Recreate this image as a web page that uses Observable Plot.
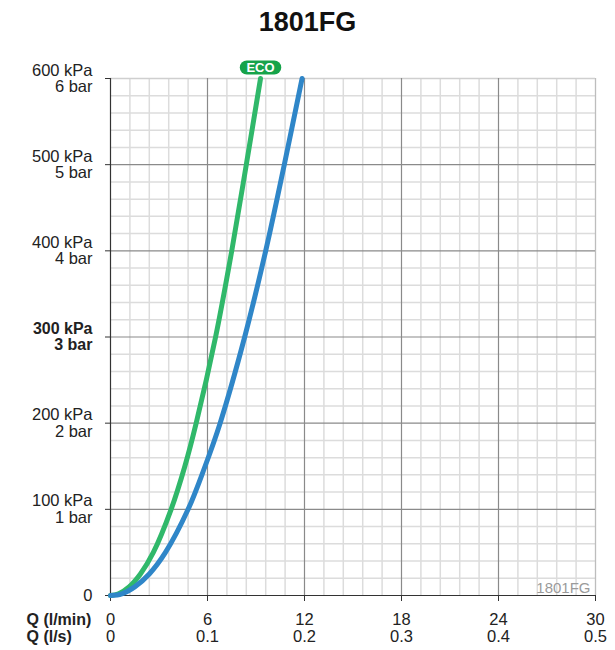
<!DOCTYPE html>
<html><head><meta charset="utf-8">
<script src="https://cdn.jsdelivr.net/npm/d3@7"></script>
<script src="https://cdn.jsdelivr.net/npm/@observablehq/plot@0.6"></script>
<style>
body{margin:0;background:#fff;font-family:"Liberation Sans",Arial,sans-serif;}
#title{height:44px;line-height:44px;text-align:center;font-weight:bold;font-size:27px;color:#111;}
</style></head><body>
<div id="title">1801FG</div>
<div id="chart"></div>
<script>
// Flow Q (l/min) vs pressure (kPa)
const ecoQ = [0, 0.5, 1.15, 1.85, 2.65, 3.75, 4.6, 5.3, 6.5, 7.5, 8.4, 9.28];
const ecoP = [0, 2, 10, 25, 50, 100, 150, 200, 300, 400, 500, 600];
const stdQ = [0, 0.7, 1.5, 2.4, 3.4, 4.8, 5.85, 6.78, 8.3, 9.6, 10.75, 11.85];
const stdP = [0, 2, 10, 25, 50, 100, 150, 200, 300, 400, 500, 600];

const xTicks = [0, 6, 12, 18, 24, 30];
const xTicksLs = ["0", "0.1", "0.2", "0.3", "0.4", "0.5"];
const yTicks = [0, 100, 200, 300, 400, 500, 600];
const yKpa = ["0", "100 kPa", "200 kPa", "300 kPa", "400 kPa", "500 kPa", "600 kPa"];
const yBar = ["", "1 bar", "2 bar", "3 bar", "4 bar", "5 bar", "6 bar"];
const boldTick = 300;
const ecoLabel = "ECO";
const watermark = "1801FG";

const eco = ecoQ.map((q, i) => ({q, p: ecoP[i]}));
const std = stdQ.map((q, i) => ({q, p: stdP[i]}));
const yLab = yTicks.map((v, i) => ({v, t: yBar[i] ? yKpa[i] + "\n" + yBar[i] : yKpa[i]}));
const xLab = xTicks.map((v, i) => ({v, t: v + "\n" + xTicksLs[i]}));

const xMinor = d3.range(0, 30.001, 1.2).filter(v => Math.abs(v / 6 - Math.round(v / 6)) > 1e-6);
const yMinor = d3.range(0, 600.001, 20).filter(v => v % 100 !== 0);
const ecoTop = eco[eco.length - 1];

const green = "#30b86a", blue = "#2f86c8", ink = "#222";
const fs = 16.5;

const chart = Plot.plot({
  width: 615, height: 606,
  marginLeft: 110, marginRight: 20, marginTop: 34, marginBottom: 55,
  x: {domain: [0, 30], axis: null},
  y: {domain: [0, 600], axis: null},
  style: {fontFamily: "'Liberation Sans', Arial, sans-serif", fontSize: "16px", color: ink},
  marks: [
    Plot.ruleX(xMinor, {stroke: "#dcdcdc", strokeWidth: 1.5}),
    Plot.ruleY(yMinor, {stroke: "#dcdcdc", strokeWidth: 1.5}),
    Plot.ruleX([30], {stroke: "#bdbdbd", strokeWidth: 1.3}),
    Plot.ruleY([600], {stroke: "#cfcfcf", strokeWidth: 1.5}),
    Plot.ruleX(xTicks.filter(v => v > 0 && v < 30), {stroke: "#8a8a8a", strokeWidth: 1.2}),
    Plot.ruleY(yTicks.filter(v => v > 0 && v < 600), {stroke: "#8a8a8a", strokeWidth: 1.2}),
    Plot.axisX(xTicks, {tickSize: 6, tickFormat: () => "", label: null, stroke: "#333"}),
    Plot.axisY(yTicks, {tickSize: 5, tickFormat: () => "", label: null, stroke: "#333"}),
    Plot.ruleX([0], {stroke: "#333", strokeWidth: 1.2}),
    Plot.ruleY([0], {stroke: "#333", strokeWidth: 1.2}),
    Plot.text(yLab.filter(d => d.v !== boldTick), {x: 0, y: "v", text: "t", dx: -18, textAnchor: "end", lineAnchor: "middle", lineHeight: 1.0, fill: ink, fontSize: fs}),
    Plot.text(yLab.filter(d => d.v === boldTick), {x: 0, y: "v", text: "t", dx: -18, textAnchor: "end", lineAnchor: "middle", lineHeight: 1.0, fill: ink, fontSize: 16, fontWeight: "bold"}),
    Plot.text(xLab, {x: "v", y: 0, text: "t", dy: 18, lineAnchor: "top", lineHeight: 1.0, fill: ink, fontSize: fs}),
    Plot.text(["Q (l/min)\nQ (l/s)"], {x: 0, y: 0, text: d => d, dx: -84, dy: 18, textAnchor: "start", lineAnchor: "top", lineHeight: 1.04, fontWeight: "bold", fill: ink, fontSize: 16}),
    Plot.text([watermark], {x: 30, y: 0, text: d => d, dx: -5, dy: -3, textAnchor: "end", lineAnchor: "bottom", fill: "#9a9a9a", fontSize: 15}),
    Plot.line(eco, {x: "q", y: "p", stroke: green, strokeWidth: 5, curve: "catmull-rom"}),
    Plot.line(std, {x: "q", y: "p", stroke: blue, strokeWidth: 5, curve: "catmull-rom"}),
    Plot.link([ecoTop], {x1: d => d.q - 0.85, x2: d => d.q + 0.85, y1: "p", y2: "p", dy: -11, stroke: "#16a34a", strokeWidth: 14, strokeLinecap: "round"}),
    Plot.text([ecoLabel], {x: ecoTop.q, y: ecoTop.p, text: d => d, dy: -11, fill: "white", fontWeight: "bold", fontSize: 13})
  ]
});
document.getElementById("chart").appendChild(chart);
</script>
</body></html>
